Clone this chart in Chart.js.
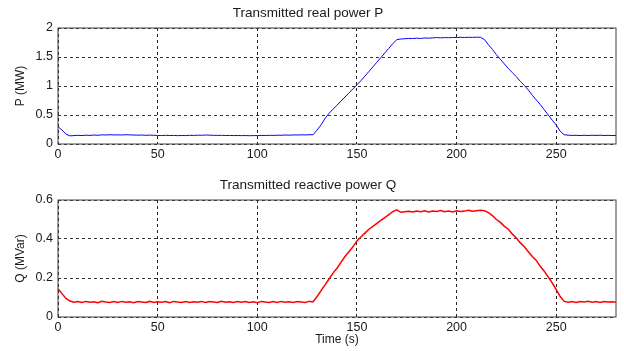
<!DOCTYPE html>
<html>
<head>
<meta charset="utf-8">
<script src="https://cdn.jsdelivr.net/npm/chart.js@4"></script>
<style>
  html, body { margin: 0; padding: 0; background: #fff; }
  #wrap { position: relative; width: 624px; height: 351px; }
  canvas { position: absolute; left: 0; }
  #pChart { top: 0; }
  #qChart { top: 175px; }
</style>
</head>
<body>
<div id="wrap">
  <canvas id="pChart" width="624" height="175"></canvas>
  <canvas id="qChart" width="624" height="176"></canvas>
</div>
<script>
// sample times (s)
const time = [
  0, 2, 4, 6, 8, 10, 12, 14, 16, 18, 20, 22, 24, 26, 28, 30, 32, 34, 36, 38,
  40, 42, 44, 46, 48, 50, 52, 54, 56, 58, 60, 62, 64, 66, 68, 70, 72, 74, 76, 78,
  80, 82, 84, 86, 88, 90, 92, 94, 96, 98, 100, 102, 104, 106, 108, 110, 112, 114, 116, 118,
  120, 122, 124, 126, 128, 130, 132, 134, 136, 138, 140, 142, 144, 146, 148, 150, 152, 154, 156, 158,
  160, 162, 164, 166, 168, 170, 172, 174, 176, 178, 180, 182, 184, 186, 188, 190, 192, 194, 196, 198,
  200, 202, 204, 206, 208, 210, 212, 214, 216, 218, 220, 222, 224, 226, 228, 230, 232, 234, 236, 238,
  240, 242, 244, 246, 248, 250, 252, 254, 256, 258, 260, 262, 264, 266, 268, 270, 272, 274, 276, 278,
  280
];

// transmitted real power P (MW)
const realPower = [
  0.30, 0.24, 0.17, 0.14, 0.145,
  0.15, 0.145, 0.152, 0.148, 0.155, 0.15, 0.158, 0.155, 0.16, 0.156,
  0.158, 0.155, 0.16, 0.157, 0.155, 0.152, 0.155, 0.15, 0.153, 0.15,
  0.148, 0.145, 0.15, 0.146, 0.148, 0.144, 0.147, 0.145, 0.15, 0.148,
  0.152, 0.15, 0.155, 0.152, 0.15, 0.148, 0.15, 0.146, 0.148, 0.145,
  0.147, 0.144, 0.146, 0.143, 0.145,
  0.145, 0.148, 0.146, 0.15, 0.148, 0.152, 0.15, 0.155, 0.152, 0.156, 0.155, 0.158, 0.156, 0.16,
  0.16, 0.24, 0.33, 0.44, 0.53, 0.60, 0.67, 0.74, 0.81, 0.88, 0.95,
  1.02, 1.09, 1.17, 1.25, 1.33, 1.41, 1.49, 1.57, 1.65, 1.73, 1.80,
  1.81, 1.815, 1.82, 1.818, 1.825, 1.82, 1.828, 1.825, 1.83, 1.835, 1.83,
  1.835, 1.832, 1.838, 1.835, 1.84, 1.836, 1.84, 1.838, 1.842, 1.84,
  1.80, 1.71, 1.63, 1.54, 1.46, 1.38, 1.30, 1.23, 1.16, 1.08, 1.01,
  0.93, 0.84, 0.76, 0.68, 0.59, 0.50, 0.41, 0.33, 0.22, 0.16,
  0.152, 0.148, 0.15, 0.146, 0.15, 0.147, 0.15, 0.148, 0.151, 0.147, 0.149, 0.146, 0.148
];

// transmitted reactive power Q (MVar)
const reactivePower = [
  0.145, 0.12, 0.095, 0.082, 0.076,
  0.079, 0.074, 0.080, 0.076, 0.078, 0.073, 0.081, 0.077, 0.075, 0.079,
  0.074, 0.080, 0.076, 0.078, 0.073, 0.079, 0.077, 0.075, 0.080, 0.074,
  0.078, 0.076, 0.079, 0.073, 0.080, 0.077, 0.075, 0.079, 0.074, 0.078,
  0.076, 0.080, 0.074, 0.079, 0.077, 0.075, 0.081, 0.076, 0.078, 0.074,
  0.079, 0.076, 0.080, 0.075, 0.078, 0.073, 0.080, 0.077, 0.075, 0.079,
  0.074, 0.080, 0.076, 0.078, 0.075, 0.079, 0.077, 0.074, 0.080,
  0.078,
  0.105, 0.135, 0.165, 0.195, 0.225, 0.25, 0.28, 0.31, 0.335, 0.36,
  0.39, 0.41, 0.43, 0.45, 0.465, 0.48, 0.495, 0.51, 0.525, 0.54,
  0.55, 0.537, 0.54,
  0.542, 0.538, 0.544, 0.540, 0.545, 0.539, 0.543, 0.541, 0.546, 0.540,
  0.544, 0.539, 0.545, 0.541, 0.543, 0.547, 0.542, 0.545, 0.548,
  0.545, 0.535, 0.52, 0.50, 0.485, 0.465, 0.45, 0.425, 0.405, 0.38, 0.36,
  0.335, 0.31, 0.29, 0.26, 0.235, 0.205, 0.175, 0.14, 0.105, 0.08, 0.076,
  0.079, 0.075, 0.080, 0.077, 0.081, 0.076, 0.079, 0.075, 0.080, 0.077, 0.078, 0.076
];

const xTicks = [0, 50, 100, 150, 200, 250];
const pTicks = [0, 0.5, 1, 1.5, 2];
const qTicks = [0, 0.2, 0.4, 0.6];

const fontFamily = '"Liberation Sans", Arial, Helvetica, sans-serif';
const textColor = '#1a1a1a';

// draws the matlab style box round the plot area
const boxPlugin = {
    id: 'box',
    afterDatasetsDraw(chart) {
        const a = chart.chartArea;
        const ctx = chart.ctx;
        ctx.save();
        ctx.strokeStyle = '#404040';
        ctx.lineWidth = 1;
        ctx.strokeRect(a.left, a.top, a.right - a.left, a.bottom - a.top);
        ctx.restore();
    }
};

function makeChart(id, opts) {
    const points = time.map((t, i) => ({ x: t, y: opts.values[i] }));
    return new Chart(document.getElementById(id).getContext('2d'), {
        type: 'line',
        data: {
            datasets: [{
                data: points,
                borderColor: opts.color,
                borderWidth: opts.lineWidth,
                pointRadius: 0,
                tension: 0,
                fill: false
            }]
        },
        options: {
            responsive: false,
            animation: false,
            devicePixelRatio: 1,
            layout: { padding: { left: 0, right: 8, top: 0, bottom: 0 } },
            plugins: {
                legend: { display: false },
                tooltip: { enabled: false },
                title: {
                    display: true,
                    text: opts.title,
                    color: textColor,
                    font: { family: fontFamily, size: 13.5, weight: 'normal' },
                    padding: opts.titlePadding
                }
            },
            scales: {
                x: {
                    type: 'linear',
                    min: 0,
                    max: 280,
                    afterFit: (s) => { s.height = opts.xHeight; },
                    afterBuildTicks: (s) => { s.ticks = xTicks.map(v => ({ value: v })); },
                    ticks: {
                        color: textColor,
                        font: { family: fontFamily, size: 12.5 },
                        padding: 3,
                        maxRotation: 0,
                        callback: (v) => String(v)
                    },
                    grid: { color: '#222', drawTicks: false, lineWidth: 1 },
                    border: { display: false, dash: [3, 3] },
                    title: {
                        display: !!opts.xTitle,
                        text: opts.xTitle || '',
                        color: textColor,
                        font: { family: fontFamily, size: 12 },
                        padding: { top: 0, bottom: 4 }
                    }
                },
                y: {
                    type: 'linear',
                    min: 0,
                    max: opts.yTicks[opts.yTicks.length - 1],
                    afterFit: (s) => { s.width = 58; },
                    afterBuildTicks: (s) => { s.ticks = opts.yTicks.map(v => ({ value: v })); },
                    ticks: {
                        color: textColor,
                        font: { family: fontFamily, size: 12.5 },
                        padding: 5,
                        callback: (v) => String(+v.toFixed(2))
                    },
                    grid: { color: '#333', drawTicks: false, lineWidth: 1 },
                    border: { display: false, dash: [3, 3] },
                    title: {
                        display: true,
                        text: opts.yTitle,
                        color: textColor,
                        font: { family: fontFamily, size: 12 },
                        padding: { top: 13.5, bottom: 0 }
                    }
                }
            }
        },
        plugins: [boxPlugin]
    });
}

makeChart('pChart', {
    values: realPower,
    color: '#0000ff',
    lineWidth: 1,
    title: 'Transmitted real power P',
    titlePadding: { top: 5.4, bottom: 6.4 },
    yTitle: 'P (MW)',
    yTicks: pTicks,
    xHeight: 31
});

makeChart('qChart', {
    values: reactivePower,
    color: '#ff0000',
    lineWidth: 1.5,
    title: 'Transmitted reactive power Q',
    titlePadding: { top: 1.9, bottom: 6.9 },
    yTitle: 'Q (MVar)',
    yTicks: qTicks,
    xHeight: 34,
    xTitle: 'Time (s)'
});
</script>
</body>
</html>
